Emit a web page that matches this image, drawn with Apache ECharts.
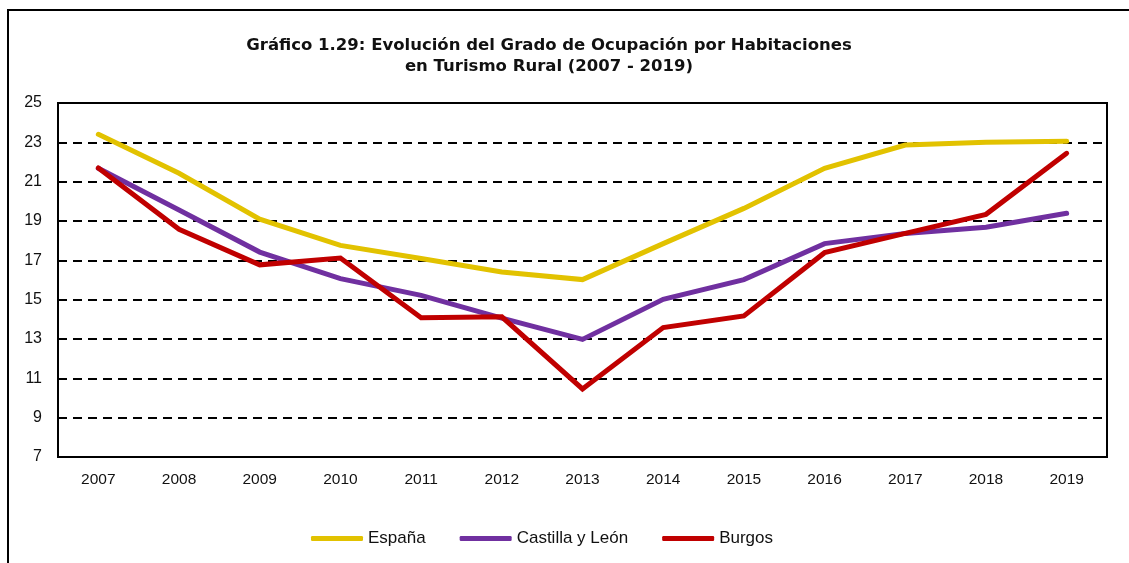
<!DOCTYPE html>
<html>
<head>
<meta charset="utf-8">
<script src="https://cdn.jsdelivr.net/npm/echarts@6/dist/echarts.min.js"></script>
<style>
  html, body { margin: 0; padding: 0; background: #fff; }
  #chart { width: 1129px; height: 563px; }
</style>
</head>
<body>
<div id="chart"></div>
<script>
// 年份
const years = ['2007', '2008', '2009', '2010', '2011', '2012', '2013', '2014', '2015', '2016', '2017', '2018', '2019'];
// 各系列数据
const espana = [23.41, 21.43, 19.09, 17.76, 17.09, 16.41, 16.02, 17.85, 19.64, 21.68, 22.86, 23.0, 23.05];
const castillaLeon = [21.68, 19.56, 17.42, 16.07, 15.22, 14.06, 12.98, 15.02, 16.02, 17.85, 18.37, 18.68, 19.39];
const burgos = [21.7, 18.58, 16.77, 17.12, 14.08, 14.13, 10.46, 13.58, 14.17, 17.39, 18.37, 19.34, 22.44];

const labelFont = "'Liberation Sans Narrow', 'Liberation Sans', sans-serif";

const myChart = echarts.init(document.getElementById('chart'));

const makeSeries = (name, data, color) => ({
  name: name,
  type: 'line',
  data: data,
  symbol: 'none',
  lineStyle: { width: 5, color: color, cap: 'round', join: 'miter' },
  itemStyle: { color: color },
  animation: false,
});

myChart.setOption({
  animation: false,
  // 外边框
  graphic: [
    {
      type: 'rect',
      shape: { x: 8, y: 10, width: 1200, height: 700 },
      style: { fill: 'none', stroke: '#000', lineWidth: 2 },
      z: 0,
    },
  ],
  title: {
    text: 'Gráfico 1.29: Evolución del Grado de Ocupación por Habitaciones\nen Turismo Rural (2007 - 2019)',
    left: 544,
    top: 30,
    textAlign: 'center',
    textStyle: {
      fontFamily: "'DejaVu Sans', sans-serif",
      fontWeight: 'bold',
      fontSize: 16.5,
      lineHeight: 21,
      color: '#111',
    },
  },
  legend: {
    bottom: 11,
    left: 306,
    icon: 'roundRect',
    itemWidth: 52,
    itemHeight: 5,
    itemGap: 34,
    textStyle: { fontFamily: labelFont, fontSize: 17, color: '#111' },
    data: ['España', 'Castilla y León', 'Burgos'],
  },
  grid: {
    left: 58,
    top: 103,
    right: 22,
    bottom: 106,
    show: true,
    borderColor: '#000',
    borderWidth: 2,
    containLabel: false,
  },
  xAxis: {
    type: 'category',
    data: years,
    boundaryGap: true,
    axisLine: { lineStyle: { color: '#000', width: 2 } },
    axisTick: { show: false },
    axisLabel: { fontFamily: labelFont, fontSize: 15.5, color: '#111', margin: 15, interval: 0 },
  },
  yAxis: {
    type: 'value',
    min: 7,
    max: 25,
    interval: 2,
    axisLine: { show: true, lineStyle: { color: '#000', width: 2 } },
    axisTick: { show: false },
    axisLabel: { fontFamily: labelFont, fontSize: 16, color: '#111', margin: 16 },
    splitLine: {
      lineStyle: { type: [9, 6], color: '#000', width: 2 },
    },
  },
  series: [
    makeSeries('España', espana, '#E2C200'),
    makeSeries('Castilla y León', castillaLeon, '#7030A0'),
    makeSeries('Burgos', burgos, '#C00000'),
  ],
});
</script>
</body>
</html>
